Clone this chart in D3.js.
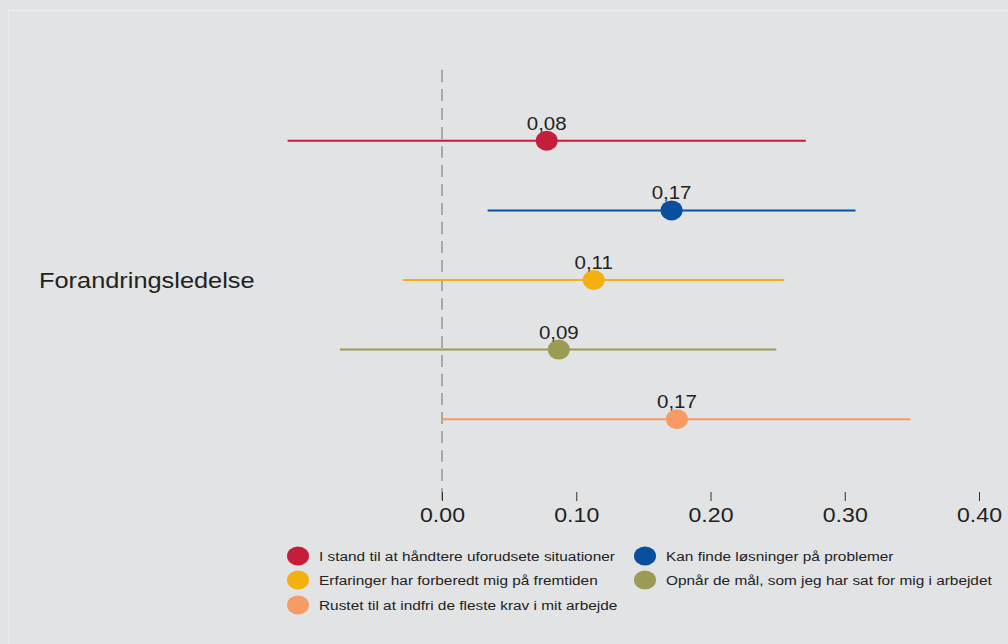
<!DOCTYPE html>
<html><head><meta charset="utf-8">
<script src="https://cdn.jsdelivr.net/npm/d3@7"></script>
<style>body{margin:0;background:#e2e3e4;}svg{display:block;font-family:Arial,"Liberation Sans",sans-serif;}</style>
</head><body>
<svg id="c" width="1008" height="644"></svg>
<script>
const categories = ["I stand til at håndtere uforudsete situationer","Kan finde løsninger på problemer","Erfaringer har forberedt mig på fremtiden","Opnår de mål, som jeg har sat for mig i arbejdet","Rustet til at indfri de fleste krav i mit arbejde"];
const estimates = [0.078, 0.171, 0.113, 0.087, 0.175];
const lower = [-0.115, 0.034, -0.029, -0.076, 0.0];
const upper = [0.271, 0.308, 0.255, 0.249, 0.349];
const pointLabels = ["0,08","0,17","0,11","0,09","0,17"];
const colors = ["#c41e3a","#0a4f9e","#f3b00f","#9b9b53","#f79b65"];
const tickValues = [0,0.1,0.2,0.3,0.4];
const groupLabel = "Forandringsledelse";

const svg = d3.select("#c");
svg.append("rect").attr("width",1008).attr("height",644).attr("fill","#e2e3e4");
svg.append("path").attr("d","M8.5,644V10.5H1008").attr("fill","none").attr("stroke","#ececed").attr("stroke-width",1.5);

const x = d3.scaleLinear().domain([0,0.4]).range([442,979]);
const y = d3.scaleBand().domain(d3.range(categories.length)).range([106,454]);

// helper: horizontally stretched text
function stext(sel, tx, ty, sx, size, anchor, str){
  return sel.append("text").attr("transform",`translate(${tx},${ty}) scale(${sx},1)`)
    .attr("font-size",size).attr("fill","#222").attr("text-anchor",anchor).text(str);
}

// zero line
svg.append("line").attr("x1",x(0)).attr("x2",x(0)).attr("y1",70).attr("y2",500)
  .attr("stroke","#a9a9a9").attr("stroke-width",2).attr("stroke-dasharray","12,7");

// axis
const axis = d3.axisBottom(x).tickValues(tickValues).tickFormat(d3.format(".2f")).tickSize(9).tickPadding(5);
const ag = svg.append("g").attr("transform","translate(0,492)").call(axis);
ag.select(".domain").remove();
ag.selectAll(".tick line").attr("stroke","#333").attr("stroke-width",1);
ag.selectAll(".tick text").attr("font-size",21).attr("fill","#222")
  .attr("font-family","Arial,'Liberation Sans',sans-serif")
  .attr("y",0).attr("dy",null)
  .attr("transform","translate(0,30) scale(1.1,1)");

const g = svg.append("g");
categories.forEach((c,i)=>{
  const cy = y(i)+y.bandwidth()/2;
  g.append("line").attr("x1",x(lower[i])).attr("x2",x(upper[i])).attr("y1",cy).attr("y2",cy)
    .attr("stroke",colors[i]).attr("stroke-width",2);
  g.append("ellipse").attr("cx",x(estimates[i])).attr("cy",cy).attr("rx",11).attr("ry",10).attr("fill",colors[i]);
  stext(g, x(estimates[i]), cy-11, 1.17, 17.5, "middle", pointLabels[i]);
});

stext(svg, 39, 288, 1.18, 21.5, "start", groupLabel);

// legend
const legPos = [[298,556],[645,556],[298,580],[645,580],[298,605]];
categories.forEach((c,i)=>{
  const [lx,ly]=legPos[i];
  svg.append("ellipse").attr("cx",lx).attr("cy",ly).attr("rx",11).attr("ry",9.5).attr("fill",colors[i]);
  stext(svg, lx+21, ly+5, 1.14, 13.5, "start", c);
});
</script>
</body></html>
